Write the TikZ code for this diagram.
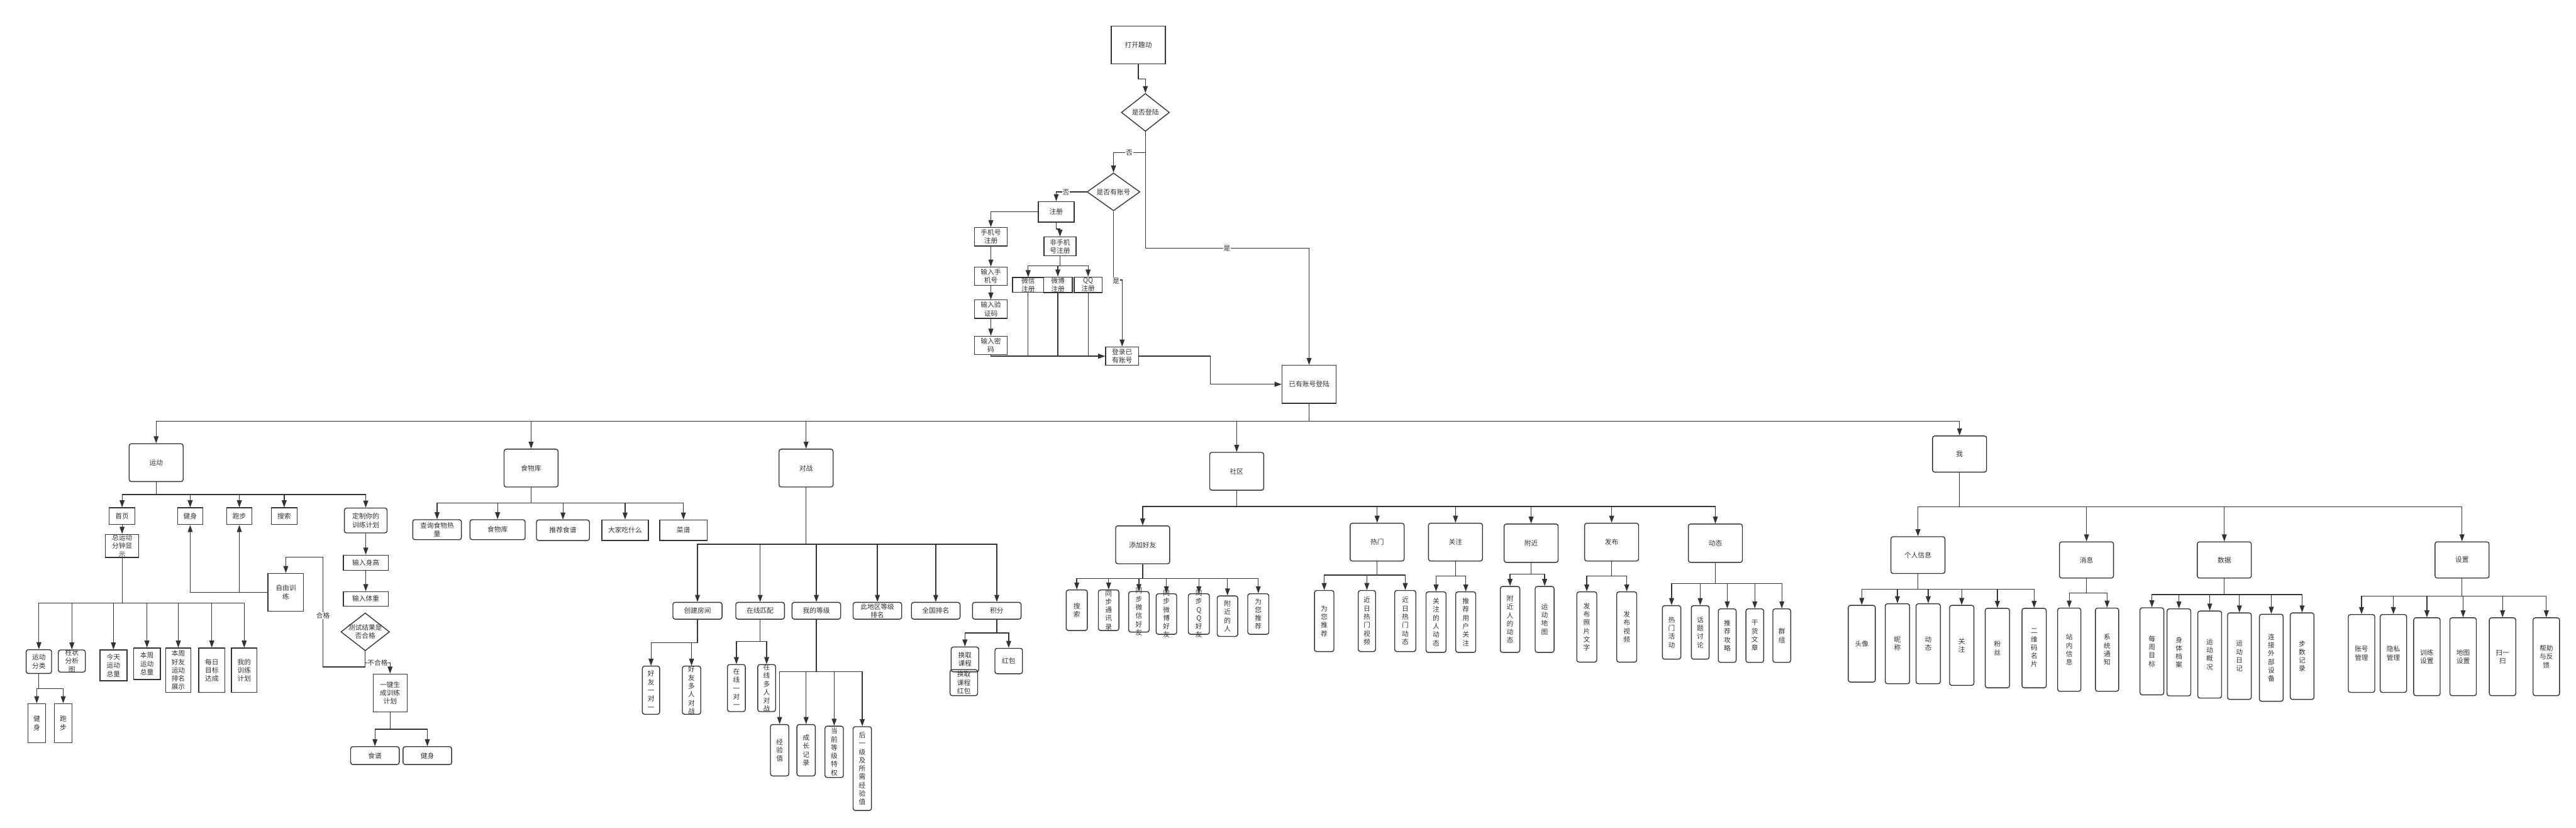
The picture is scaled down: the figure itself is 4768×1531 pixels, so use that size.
\documentclass[tikz,border=0pt]{standalone}
\usepackage{fontspec}
\setmainfont{Noto Sans CJK SC}
\usetikzlibrary{arrows.meta,shapes.geometric}
\definecolor{ln}{HTML}{333333}
\tikzset{
  mybx/.style={draw=ln, line width=1.6pt, inner sep=0pt},
  rnd/.style={rounded corners=4pt},
  sq/.style={},
  txt/.style={font=\fontsize{12.5}{15.5}\selectfont, text=ln, align=center, inner sep=0pt},
  arr/.style={draw=ln, line width=1.5pt, -{Triangle[length=13pt,width=9pt]}},
  pln/.style={draw=ln, line width=1.5pt},
  dia/.style={diamond, draw=ln, line width=1.6pt, inner sep=0pt},
  lbl/.style={txt, fill=white, inner sep=1pt}
}
\newcommand\mybox[7]{%
  \node[mybx,#6,minimum width=#4pt,minimum height=#5pt] (#1) at (#2,#3) {};
  \node[txt] at (#1.center) {#7};}
\newcommand\mytree[3]{%
  \foreach \c in {#3}{\draw[arr] (#1.south) -- (#1.south |- 0,#2) -| (\c.north);}}
\begin{document}
\begin{tikzpicture}[x=1pt,y=-1pt]
\fill[white] (0,0) rectangle (4768,1531);
\useasboundingbox (0,0) rectangle (4768,1531);

% ---------- login flow ----------
\mybox{open}{2107}{83}{100}{70}{sq}{打开趣动}
\node[dia, minimum width=89pt, minimum height=70pt] (login) at (2120,208) {};
\node[txt] at (login.center) {是否登陆};
\node[dia, minimum width=98pt, minimum height=70pt] (acct) at (2061,355) {};
\node[txt] at (acct.center) {是否有账号};
\mybox{reg}{1955}{392}{66}{38}{sq}{注册}
\mybox{ph}{1834}{438}{60}{34}{sq}{手机号\\注册}
\mybox{ph1}{1834}{511}{60}{34}{sq}{输入手\\机号}
\mybox{ph2}{1834}{572}{60}{34}{sq}{输入验\\证码}
\mybox{ph3}{1834}{639}{60}{34}{sq}{输入密\\码}
\mybox{nph}{1962}{456}{59}{35}{sq}{非手机\\号注册}
\mybox{wx}{1903}{527}{58}{27}{sq}{微信\\注册}
\mybox{wb}{1958}{527}{53}{29}{sq}{微博\\注册}
\mybox{qq}{2014}{527}{52}{29}{sq}{QQ\\注册}
\mybox{lg}{2077}{659}{61}{34}{sq}{登录已\\有账号}
\mybox{done}{2423}{711}{100}{70}{sq}{已有账号登陆}

\draw[arr] (open.south) -- ++(0,27) -| (login.north);
\draw[arr] (login.south) -- (login.south |- 0,282) -| (acct.north);
\draw[arr] (login.south) -- (login.south |- 0,459) -| (done.north);
\draw[arr] (acct.west) -| (reg.north);
\draw[arr] (reg.west) -| (ph.north);
\draw[arr] (ph.south) -- (ph1.north);
\draw[arr] (ph1.south) -- (ph2.north);
\draw[arr] (ph2.south) -- (ph3.north);
\draw[arr] (reg.south) -- ++(0,12) -| (nph.north);
\mytree{nph}{492}{wx,wb,qq}
\draw[arr] (ph3.south) |- (lg.west);
\draw[pln] (wx.south) -- (wx.south |- lg.west);
\draw[pln] (wb.south) -- (wb.south |- lg.west);
\draw[pln] (qq.south) -- (qq.south |- lg.west);
\draw[arr] (acct.south) -- (acct.south |- 0,518) -| (lg.north);
\draw[arr] (lg.east) -- ++(132,0) |- (done.west);
\node[lbl] (l1) at (2090,282) {否};
\node[lbl] (l2) at (2271,459) {是};
\node[lbl] (l3) at (1973,356) {否};
\node[lbl] (l4) at (2066,520) {是};

% ---------- top modules ----------
\mybox{yd}{289}{856}{100}{70}{rnd}{运动}
\mybox{sw}{983}{866}{100}{70}{rnd}{食物库}
\mybox{dz}{1492}{866}{100}{70}{rnd}{对战}
\mybox{shq}{2289}{872}{100}{70}{rnd}{社区}
\mybox{wo}{3627}{840}{100}{67}{rnd}{我}
\mytree{done}{779}{yd,sw,dz,shq,wo}

% ---------- 运动 ----------
\mybox{sy}{226}{955}{48}{31}{sq}{首页}
\mybox{js}{352}{955}{47}{31}{sq}{健身}
\mybox{pb}{443}{955}{47}{31}{sq}{跑步}
\mybox{ss}{526}{955}{48}{31}{sq}{搜索}
\mybox{dzj}{677}{963}{79}{46}{rnd}{定制你的\\训练计划}
\mytree{yd}{915}{sy,js,pb,ss,dzj}
\mybox{zyd}{226}{1010}{62}{43}{sq}{总运动\\分钟显\\示}
\draw[arr] (sy.south) -- (zyd.north);
\mybox{fl}{72}{1224}{47}{44}{rnd}{运动\\分类}
\mybox{zz}{133}{1223}{50}{41}{rnd}{柱状\\分析\\图}
\mybox{jt}{210}{1231}{50}{57}{sq}{今天\\运动\\总量}
\mybox{bz}{272}{1228}{50}{58}{sq}{本周\\运动\\总量}
\mybox{hy}{330}{1240}{47}{82}{sq}{本周\\好友\\运动\\排名\\展示}
\mybox{mr}{392}{1240}{48}{82}{sq}{每日\\目标\\达成}
\mybox{wd}{452}{1240}{47}{82}{sq}{我的\\训练\\计划}
\mytree{zyd}{1116}{fl,zz,jt,bz,hy,mr,wd}
\mybox{js2}{68}{1338}{33}{72}{sq}{健\\身}
\mybox{pb2}{117}{1338}{32}{72}{sq}{跑\\步}
\mytree{fl}{1274}{js2,pb2}
\mybox{zy}{529}{1096}{66}{70}{sq}{自由训\\练}
\draw[arr] (zy.west) -| (js.south);
\draw[arr] (zy.west) -| (pb.south);
\mybox{sg}{677}{1041}{83}{28}{sq}{输入身高}
\mybox{tz}{677}{1108}{83}{27}{sq}{输入体重}
\draw[arr] (dzj.south) -- (sg.north);
\draw[arr] (sg.south) -- (tz.north);
\node[dia, minimum width=90pt, minimum height=70pt] (test) at (676,1169) {};
\node[txt] at (test.center) {测试结果是\\否合格};
\mybox{yj}{722}{1282}{63}{70}{sq}{一键生\\成训练\\计划}
\draw[arr] (test.south) -- (test.south |- 0,1234) -- (598,1234) -- (598,1031) -| (zy.north);
\draw[arr] (test.south) -- (test.south |- 0,1226) -| (yj.north);
\node[lbl] (l5) at (598,1139) {合格};
\node[lbl] (l6) at (699,1226) {不合格};
\mybox{sp}{694}{1398}{90}{33}{rnd}{食谱}
\mybox{js3}{791}{1398}{90}{33}{rnd}{健身}
\mytree{yj}{1349}{sp,js3}

% ---------- 食物库 ----------
\mybox{f1}{809}{980}{90}{37}{rnd}{查询食物热\\量}
\mybox{f2}{921}{980}{102}{37}{rnd}{食物库}
\mybox{f3}{1042}{981}{98}{38}{rnd}{推荐食谱}
\mybox{f4}{1157}{981}{86}{38}{sq}{大家吃什么}
\mybox{f5}{1265}{981}{88}{38}{sq}{菜谱}
\mytree{sw}{931}{f1,f2,f3,f4,f5}

% ---------- 对战 ----------
\mybox{d1}{1291}{1130}{91}{31}{rnd}{创建房间}
\mybox{d2}{1407}{1130}{90}{31}{rnd}{在线匹配}
\mybox{d3}{1511}{1130}{90}{31}{rnd}{我的等级}
\mybox{d4}{1624}{1130}{90}{31}{rnd}{此地区等级\\排名}
\mybox{d5}{1732}{1130}{90}{31}{rnd}{全国排名}
\mybox{d6}{1845}{1130}{90}{31}{rnd}{积分}
\mytree{dz}{1007}{d1,d2,d3,d4,d5,d6}
\mybox{e1}{1205}{1277}{32}{89}{rnd}{好\\友\\一\\对\\一}
\mybox{e2}{1280}{1277}{34}{89}{rnd}{好\\友\\多\\人\\对\\战}
\mytree{d1}{1189}{e1,e2}
\mybox{e3}{1363}{1273}{33}{87}{rnd}{在\\线\\一\\对\\一}
\mybox{e4}{1419}{1273}{33}{87}{rnd}{在\\线\\多\\人\\对\\战}
\mytree{d2}{1187}{e3,e4}
\mybox{e5}{1443}{1388}{34}{95}{rnd}{经\\验\\值}
\mybox{e6}{1492}{1388}{34}{95}{rnd}{成\\长\\记\\录}
\mybox{e7}{1544}{1391}{34}{95}{rnd}{当\\前\\等\\级\\特\\权}
\mybox{e8}{1596}{1422}{34}{155}{rnd}{后\\一\\级\\及\\所\\需\\经\\验\\值}
\mytree{d3}{1243}{e5,e6,e7,e8}
\mybox{hq}{1786}{1220}{51}{46}{rnd}{换取\\课程}
\mybox{hk}{1784}{1263}{51}{48}{rnd}{换取\\课程\\红包}
\mybox{hb}{1867}{1223}{51}{47}{rnd}{红包}
\mytree{d6}{1171}{hq,hb}

% ---------- 社区 ----------
\mybox{tj}{2115}{1008}{100}{70}{rnd}{添加好友}
\mybox{rm}{2549}{1003}{100}{70}{rnd}{热门}
\mybox{gz}{2694}{1003}{100}{70}{rnd}{关注}
\mybox{fj}{2834}{1005}{100}{71}{rnd}{附近}
\mybox{fb}{2983}{1003}{100}{70}{rnd}{发布}
\mybox{dt}{3175}{1005}{100}{71}{rnd}{动态}
\mytree{shq}{937}{tj,rm,gz,fj,fb,dt}
\mybox{t1}{1993}{1129}{39}{75}{rnd}{搜\\索}
\mybox{t2}{2052}{1129}{38}{75}{rnd}{同\\步\\通\\讯\\录}
\mybox{t3}{2108}{1132}{38}{75}{rnd}{同\\步\\微\\信\\好\\友}
\mybox{t4}{2159}{1136}{38}{75}{rnd}{同\\步\\微\\博\\好\\友}
\mybox{t5}{2219}{1136}{39}{75}{rnd}{同\\步\\Q\\Q\\好\\友}
\mybox{t6}{2272}{1140}{38}{75}{rnd}{附\\近\\的\\人}
\mybox{t7}{2329}{1136}{39}{75}{rnd}{为\\您\\推\\荐}
\mytree{tj}{1070}{t1,t2,t3,t4,t5,t6,t7}
\mybox{r1}{2451}{1149}{36}{113}{rnd}{为\\您\\推\\荐}
\mybox{r2}{2530}{1149}{32}{113}{rnd}{近\\日\\热\\门\\视\\频}
\mybox{r3}{2601}{1149}{39}{113}{rnd}{近\\日\\热\\门\\动\\态}
\mytree{rm}{1064}{r1,r2,r3}
\mybox{g1}{2658}{1151}{37}{112}{rnd}{关\\注\\的\\人\\动\\态}
\mybox{g2}{2713}{1151}{37}{112}{rnd}{推\\荐\\用\\户\\关\\注}
\mytree{gz}{1066}{g1,g2}
\mybox{n1}{2795}{1146}{36}{122}{rnd}{附\\近\\人\\的\\动\\态}
\mybox{n2}{2859}{1146}{35}{122}{rnd}{运\\动\\地\\图}
\mytree{fj}{1062}{n1,n2}
\mybox{p1}{2937}{1160}{37}{130}{rnd}{发\\布\\照\\片\\文\\字}
\mybox{p2}{3011}{1160}{37}{130}{rnd}{发\\布\\视\\频}
\mytree{fb}{1066}{p1,p2}
\mybox{k1}{3094}{1170}{34}{99}{rnd}{热\\门\\活\\动}
\mybox{k2}{3147}{1170}{33}{99}{rnd}{话\\题\\讨\\论}
\mybox{k3}{3197}{1176}{33}{99}{rnd}{推\\荐\\攻\\略}
\mybox{k4}{3248}{1176}{33}{99}{rnd}{干\\货\\文\\章}
\mybox{k5}{3298}{1176}{33}{99}{rnd}{群\\组}
\mytree{dt}{1080}{k1,k2,k3,k4,k5}

% ---------- 我 ----------
\mybox{gr}{3550}{1027}{100}{68}{rnd}{个人信息}
\mybox{xx}{3862}{1036}{100}{67}{rnd}{消息}
\mybox{sj}{4117}{1036}{100}{67}{rnd}{数据}
\mybox{sz}{4557}{1036}{100}{67}{rnd}{设置}
\mytree{wo}{938}{gr,xx,sj,sz}
\mybox{w1}{3446}{1191}{50}{142}{rnd}{头像}
\mybox{w2}{3512}{1191}{45}{148}{rnd}{昵\\称}
\mybox{w3}{3569}{1191}{45}{148}{rnd}{动\\态}
\mybox{w4}{3631}{1194}{45}{148}{rnd}{关\\注}
\mybox{w5}{3697}{1199}{45}{147}{rnd}{粉\\丝}
\mybox{w6}{3765}{1199}{45}{147}{rnd}{二\\维\\码\\名\\片}
\mytree{gr}{1090}{w1,w2,w3,w4,w5,w6}
\mybox{x1}{3830}{1202}{43}{154}{rnd}{站\\内\\信\\息}
\mybox{x2}{3900}{1202}{43}{154}{rnd}{系\\统\\通\\知}
\mytree{xx}{1097}{x1,x2}
\mybox{s1}{3983}{1205}{44}{161}{rnd}{每\\周\\目\\标}
\mybox{s2}{4033}{1207}{44}{161}{rnd}{身\\体\\档\\案}
\mybox{s3}{4090}{1211}{44}{161}{rnd}{运\\动\\概\\况}
\mybox{s4}{4145}{1214}{44}{160}{rnd}{运\\动\\日\\记}
\mybox{s5}{4204}{1217}{44}{161}{rnd}{连\\接\\外\\部\\设\\备}
\mybox{s6}{4261}{1214}{44}{160}{rnd}{步\\数\\记\\录}
\mytree{sj}{1100}{s1,s2,s3,s4,s5,s6}
\mybox{z1}{4371}{1209}{49}{144}{rnd}{账号\\管理}
\mybox{z2}{4430}{1209}{49}{144}{rnd}{隐私\\管理}
\mybox{z3}{4492}{1215}{49}{144}{rnd}{训练\\设置}
\mybox{z4}{4559}{1215}{49}{144}{rnd}{地图\\设置}
\mybox{z5}{4632}{1215}{49}{144}{rnd}{扫一\\扫}
\mybox{z6}{4713}{1215}{49}{144}{rnd}{帮助\\与反\\馈}
\mytree{sz}{1103}{z1,z2,z3,z4,z5,z6}
\end{tikzpicture}
\end{document}
